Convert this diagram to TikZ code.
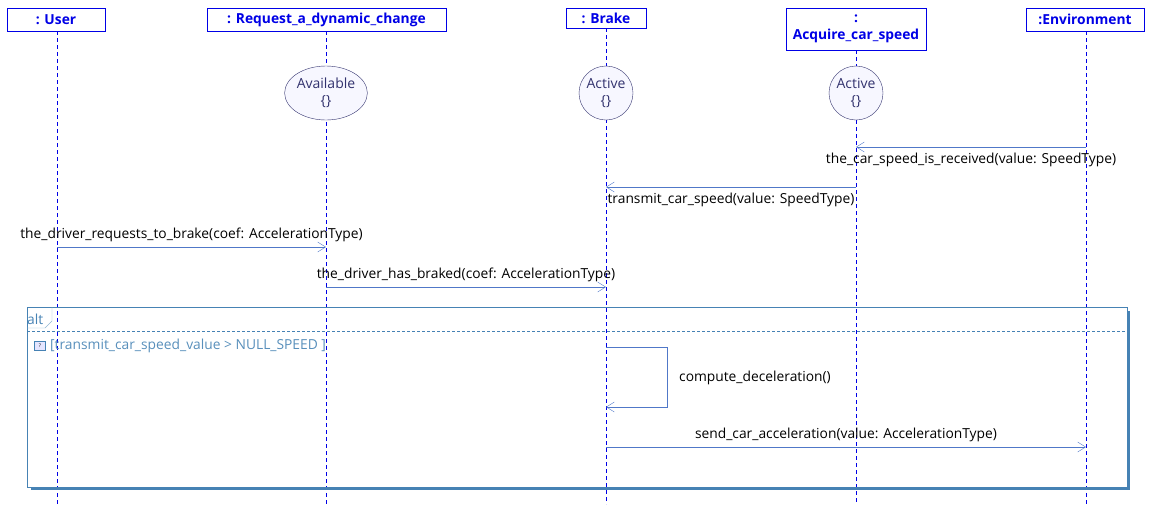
\documentclass[tikz,border=0pt]{standalone}
\usepackage{fontspec}
\setmainfont{Open Sans}
\usetikzlibrary{arrows.meta,shapes.geometric}
\definecolor{lb}{RGB}{0,0,230}
\definecolor{fr}{RGB}{70,130,180}
\definecolor{msg}{RGB}{80,120,200}
\definecolor{st}{RGB}{50,50,110}
\begin{document}
\begin{tikzpicture}[x=1pt,y=-1pt,font=\fontsize{13.8}{16}\selectfont,
 head/.style={draw=lb,text=lb,font=\fontsize{13.8}{17}\selectfont\bfseries,inner sep=0pt,align=center},
 life/.style={lb,dashed,dash pattern=on 4pt off 3pt},
 state/.style={draw=st,fill=blue!3,text=st,align=center,font=\fontsize{14}{17}\selectfont,inner sep=0pt},
 m/.style={msg,-{Straight Barb[length=8pt,width=10pt]}},
 lab/.style={text=black,inner sep=1pt}]
\useasboundingbox (0,0) rectangle (1154,504);
\node[head,minimum width=98pt,minimum height=23pt] (u) at (56,19.5) {: User};
\node[head,minimum width=239pt,minimum height=23pt] (r) at (326.5,19.5) {: Request\_a\_dynamic\_change};
\node[head,minimum width=80pt,minimum height=20pt] (b) at (606,18) {: Brake};
\node[head,minimum width=140pt,minimum height=42pt] (a) at (856,29) {:\\Acquire\_car\_speed};
\node[head,minimum width=118pt,minimum height=23pt] (e) at (1085,19.5) {:Environment};
\foreach \x/\t in {57/31,326/31,606/28,856/50,1086/31}{\draw[life] (\x,\t) -- (\x,504);}
\node[state,ellipse,minimum width=76pt,minimum height=54pt] (s1) at (326,93) {Available\\\{\}};
\node[state,circle,minimum size=54pt] (s2) at (606,93) {Active\\\{\}};
\node[state,circle,minimum size=54pt] (s3) at (856,93) {Active\\\{\}};
\coordinate (e1) at (1086,147); \coordinate (a1) at (856,147);
\draw[m] (e1) -- (a1) node[lab,midway,below=5pt] {the\_car\_speed\_is\_received(value: SpeedType)};
\coordinate (a2) at (856,187); \coordinate (b2) at (606,187);
\draw[m] (a2) -- (b2) node[lab,midway,below=5pt] {transmit\_car\_speed(value: SpeedType)};
\coordinate (u3) at (57,247); \coordinate (r3) at (326,247);
\draw[m] (u3) -- (r3) node[lab,midway,above=4pt] {the\_driver\_requests\_to\_brake(coef: AccelerationType)};
\coordinate (r4) at (326,287); \coordinate (b4) at (606,287);
\draw[m] (r4) -- (b4) node[lab,midway,above=4pt] {the\_driver\_has\_braked(coef: AccelerationType)};
% frame
\draw[fr,line width=2.5pt] (31,489) -- (1129,489) -- (1129,311);
\draw[fr] (27,307) rectangle (1127,487);
\node[anchor=west,inner sep=0pt,text=fr] (alt) at (27,319) {alt};
\draw[fr!60] (27,328) -- (45,328) -- (52,321) -- (52,307);
\draw[fr,dashed,dash pattern=on 3pt off 2pt] (27,331) -- (1127,331);
\node[draw=fr,fill=blue!10,inner sep=0pt,minimum width=11pt,minimum height=9pt,font=\fontsize{5}{5}\selectfont] (ic) at (40,346) {?};
\node[anchor=west,text=fr!90,inner sep=0pt] (g) at (50,346) {[transmit\_car\_speed\_value > NULL\_SPEED ]};
\coordinate (b5) at (606,347); \coordinate (b6) at (606,407);
\draw[m] (b5) -- (667,347) -- (667,407) -- (b6);
\node[lab,anchor=west] (cl) at (678,378) {compute\_deceleration()};
\coordinate (b7) at (606,447); \coordinate (e7) at (1086,447);
\draw[m] (b7) -- (e7) node[lab,midway,above=4pt] {send\_car\_acceleration(value: AccelerationType)};
\end{tikzpicture}
\end{document}
